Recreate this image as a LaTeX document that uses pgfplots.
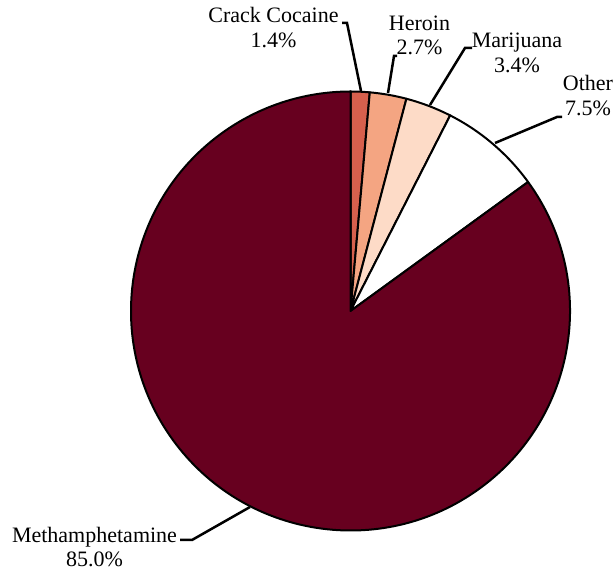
\documentclass[border=0pt]{standalone}
\usepackage{pgfplots}
\pgfplotsset{compat=1.18}
\usepackage{fontspec}
\setmainfont{Liberation Serif}

\definecolor{crack}{HTML}{D6604D}
\definecolor{heroin}{HTML}{F4A582}
\definecolor{marij}{HTML}{FDDBC7}
\definecolor{meth}{HTML}{67001F}

% pie centre and radius, in axis units (1 unit = 1bp)
\def\cx{350.5}
\def\cy{260}
\def\R{219.5}

% #1 = cumulative share before the slice, #2 = after it, #3 = colour
\newcommand{\slice}[3]{%
  \filldraw[fill=#3, draw=black, line width=2bp, line join=round]
    (axis cs:\cx,\cy) --
    (axis cs:{\cx+\R*cos(90-3.6*#1)},{\cy+\R*sin(90-3.6*#1)})
    arc[start angle={90-3.6*#1}, end angle={90-3.6*#2}, radius=\R bp] -- cycle;}

\begin{document}
\begin{tikzpicture}
  \begin{axis}[
    hide axis, scale only axis,
    width=613bp, height=571bp,
    xmin=0, xmax=613, ymin=0, ymax=571,
    at={(0,0)}, anchor=south west,
    clip=false]
    % shares: Crack Cocaine 1.4, Heroin 2.7, Marijuana 3.4, Other 7.5, Methamphetamine 85.0
    \slice{0}{1.4}{crack}
    \slice{1.4}{4.1}{heroin}
    \slice{4.1}{7.5}{marij}
    \slice{7.5}{15.0}{white}
    \slice{15.0}{100}{meth}

    \draw[line width=2.5bp] (axis cs:361,480) -- (axis cs:347,548) -- (axis cs:342,548);
    \draw[line width=2.5bp] (axis cs:388,478) -- (axis cs:394,515) -- (axis cs:397,515);
    \draw[line width=2.5bp] (axis cs:430,466) -- (axis cs:465,523) -- (axis cs:472,523);
    \draw[line width=2.5bp] (axis cs:495,428) -- (axis cs:557,454) -- (axis cs:562,454);
    \draw[line width=2.5bp] (axis cs:250,64) -- (axis cs:192,31) -- (axis cs:180,31);

    \begin{scope}[every node/.style={anchor=base, inner sep=0pt,
        font=\fontsize{22bp}{25bp}\selectfont}]
      \node at (axis cs:273.5,548) {Crack Cocaine};
      \node at (axis cs:273.5,523) {1.4\%};
      \node at (axis cs:419.5,540.5) {Heroin};
      \node at (axis cs:419.5,516) {2.7\%};
      \node at (axis cs:517,523) {Marijuana};
      \node at (axis cs:517,498) {3.4\%};
      \node at (axis cs:588,480) {Other};
      \node at (axis cs:588,455) {7.5\%};
      \node at (axis cs:94.5,28) {Methamphetamine};
      \node at (axis cs:94.5,4.5) {85.0\%};
    \end{scope}
  \end{axis}
  \pgfresetboundingbox
  \path (0,0) rectangle (613bp,571bp);
\end{tikzpicture}
\end{document}
